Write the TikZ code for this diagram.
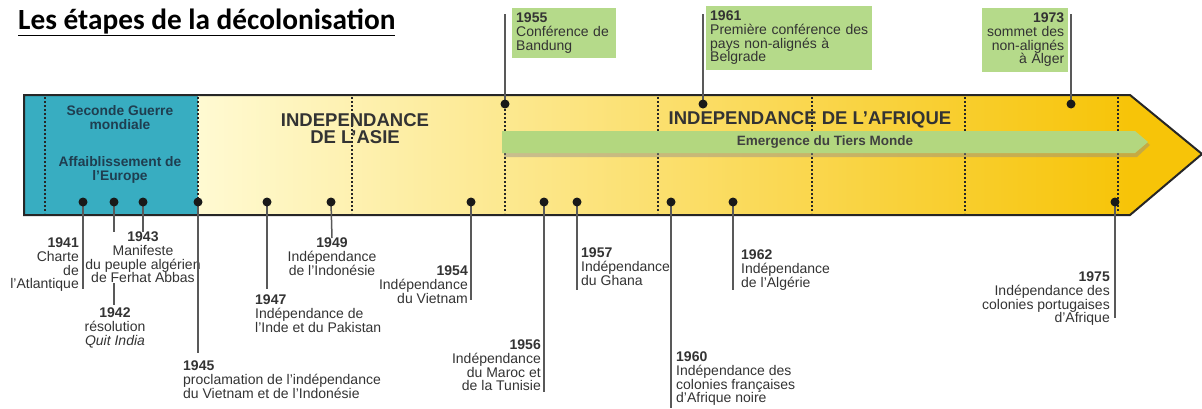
\documentclass[tikz,border=0pt]{standalone}
\usepackage{fontspec}
\setmainfont{Liberation Sans}
\newfontfamily\titlefont{Carlito}

\definecolor{tealband}{HTML}{38ADC1}
\definecolor{cream}{HTML}{FFFAD2}
\definecolor{gold}{HTML}{F7C408}
\definecolor{tiersgreen}{HTML}{B3D77F}
\definecolor{meetgreen}{HTML}{B5DA8A}
\definecolor{eratext}{HTML}{1F3E50}

\begin{document}
\begin{tikzpicture}[
        x=1pt, y=-1pt,
        dot/.style={
            circle,
            fill=black!90,
            inner sep=0pt,
            minimum size=9pt,
        },
        leader/.style={
            draw=black!65,
            line width=1.5pt,
        },
        divider/.style={
            black!85,
            line width=2pt,
            dash pattern=on 2pt off 2pt,
        },
        event/.style={
            inner sep=0pt,
            font=\fontsize{14}{13.6}\selectfont,
            text=black!80,
        },
        meeting/.style={
            event,
            fill=meetgreen,
            inner xsep=4pt,
            inner ysep=5pt,
            anchor=north west,
        },
        era/.style={
            font=\bfseries\fontsize{13.8}{14}\selectfont,
            text=eratext,
            align=center,
        },
        region/.style={
            font=\bfseries\fontsize{18.5}{17}\selectfont,
            text=black!80,
            align=center,
        },
    ]

    \useasboundingbox (0,0) rectangle (1202,408);

    \node[anchor=base west, inner sep=0pt, font=\titlefont\bfseries\fontsize{29.3}{30}\selectfont] (title) at (18,29) {\underline{Les étapes de la décolonisation}};

    % the band
    \fill[tealband] (24,95) rectangle (198,215);
    \shade[left color=cream, right color=gold] (198,95) rectangle (1130,215);
    \fill[gold] (1130,95) -- (1202,154) -- (1130,215) -- cycle;
    \foreach \x in {45,198,352,505,658,812,965,1118}
        \draw[divider] (\x,97) -- (\x,213);
    \fill[black!45, opacity=.45] (504,134) -- (1137,134) -- (1150,145) -- (1137,157) -- (504,157) -- cycle;
    \fill[tiersgreen] (502,131) -- (1135,131) -- (1148,142) -- (1135,153) -- (502,153) -- cycle;
    \draw[black!85, line width=2pt] (24,95) -- (1130,95) -- (1202,154) -- (1130,215) -- (24,215) -- cycle;

    \node[era] (guerre) at (120,118) {Seconde Guerre\\mondiale};
    \node[era] (europe) at (120,170) {Affaiblissement de\\l'Europe};
    \node[region] (asie) at (355,129) {INDEPENDANCE\\DE L'ASIE};
    \node[region] (afrique) at (810,120) {INDEPENDANCE DE L'AFRIQUE};
    \node[font=\bfseries\fontsize{13.5}{13}\selectfont, text=black!75] (tiers) at (825,142) {Emergence du Tiers Monde};

    \foreach \yr/\x in {41/83, 42/114, 43/143, 45/198, 47/267, 49/331, 54/471, 56/544, 57/577, 60/671, 62/733, 75/1115}
        \coordinate (d\yr) at (\x,202);
    \foreach \yr/\x in {55/505, 61/703, 73/1071}
        \coordinate (d\yr) at (\x,104);

    \coordinate (e41) at (83,289);
    \coordinate (e42) at (114,305);
    \coordinate (e45) at (198,353);
    \coordinate (e47) at (267,289);
    \coordinate (e54) at (471,300);
    \coordinate (e56) at (544,392);
    \coordinate (e57) at (577,290);
    \coordinate (e60) at (671,408);
    \coordinate (e62) at (733,290);
    \coordinate (e75) at (1115,318);
    \coordinate (t55) at (505,14);
    \coordinate (t61) at (703,14);
    \coordinate (t73) at (1071,14);

    % events below the band
    \draw[leader] (d41) -- (e41);
    \draw[leader] (d42) -- (e42);

    \node[event, anchor=north east, align=right] (l41) at (79,238) {\textbf{1941}\\Charte\\de\\l'Atlantique};
    \node[event, anchor=north, align=center] (l42) at (115,308) {\textbf{1942}\\résolution\\\textit{Quit India}};
    \node[event, anchor=north, align=center, fill=white] (l43) at (143,232) {\textbf{1943}\\Manifeste\\du peuple algérien\\de Ferhat Abbas};
    \node[event, anchor=north west, align=left] (l45) at (183,361) {\textbf{1945}\\proclamation de l'indépendance\\du Vietnam et de l'Indonésie};
    \node[event, anchor=north west, align=left] (l47) at (255,295) {\textbf{1947}\\Indépendance de\\l'Inde et du Pakistan};
    \node[event, anchor=north, align=center] (l49) at (332,238) {\textbf{1949}\\Indépendance\\de l'Indonésie};
    \node[event, anchor=north east, align=right] (l54) at (468,266) {\textbf{1954}\\Indépendance\\du Vietnam};
    \node[event, anchor=north east, align=right] (l56) at (541,340) {\textbf{1956}\\Indépendance\\du Maroc et\\de la Tunisie};
    \node[event, anchor=north west, align=left] (l57) at (581,248) {\textbf{1957}\\Indépendance\\du Ghana};
    \node[event, anchor=north west, align=left] (l60) at (676,352) {\textbf{1960}\\Indépendance des\\colonies françaises\\d'Afrique noire};
    \node[event, anchor=north west, align=left] (l62) at (741,250) {\textbf{1962}\\Indépendance\\de l'Algérie};
    \node[event, anchor=north east, align=right] (l75) at (1110,272) {\textbf{1975}\\Indépendance des\\colonies portugaises\\d'Afrique};

    \draw[leader] (d43) -- (l43.north);
    \draw[leader] (d45) -- (e45);
    \draw[leader] (d47) -- (e47);
    \draw[leader] (d49) -- (l49.north);
    \draw[leader] (d54) -- (e54);
    \draw[leader] (d56) -- (e56);
    \draw[leader] (d57) -- (e57);
    \draw[leader] (d60) -- (e60);
    \draw[leader] (d62) -- (e62);
    \draw[leader] (d75) -- (e75);

    % conferences above the band
    \node[meeting, text width=96pt, align=left] (b55) at (512,8) {\textbf{1955}\\Conférence de\\Bandung};
    \node[meeting, text width=158pt, align=left] (b61) at (706,6) {\textbf{1961}\\Première conférence des\\pays non-alignés à\\Belgrade};
    \node[meeting, text width=78pt, align=right] (b73) at (982,8) {\textbf{1973}\\sommet des\\non-alignés\\à Alger};

    \draw[leader] (t55) -- (d55);
    \draw[leader] (t61) -- (d61);
    \draw[leader] (t73) -- (d73);

    \foreach \yr in {41,42,43,45,47,49,54,56,57,60,62,75,55,61,73}
        \node[dot] (p\yr) at (d\yr) {};

\end{tikzpicture}
\end{document}
